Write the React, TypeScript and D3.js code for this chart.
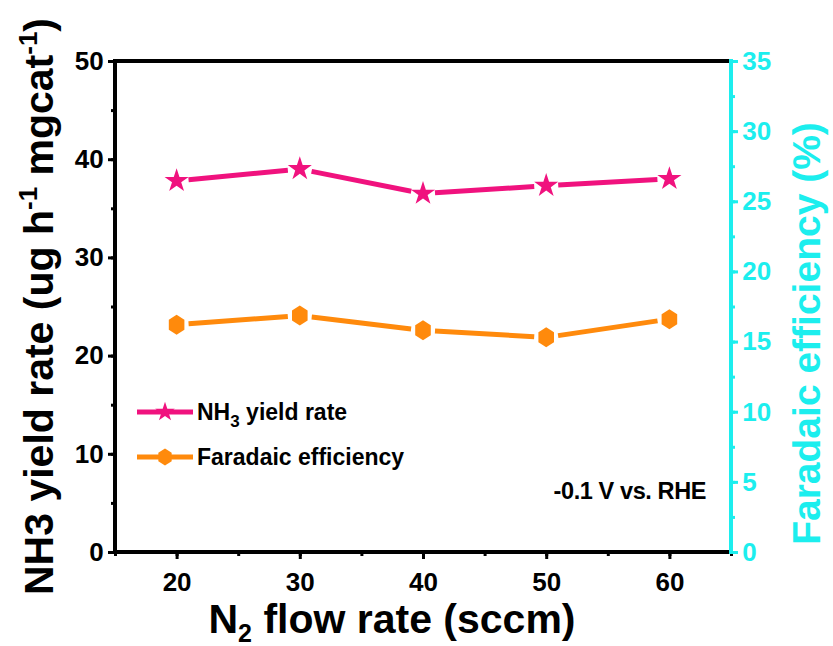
import React, { useEffect, useRef } from 'react';
import * as d3 from 'd3';

const flowRates = [20, 30, 40, 50, 60];
const nh3Yield = [37.8, 39.0, 36.5, 37.3, 38.0];
const faradaic = [16.2, 16.85, 15.8, 15.3, 16.6];
const xTicks = [20, 30, 40, 50, 60];
const leftTicks = [0, 10, 20, 30, 40, 50];
const rightTicks = [0, 5, 10, 15, 20, 25, 30, 35];

const PINK = '#f0127e';
const ORANGE = '#ff8a0c';
const CYAN = '#1ceeee';

// vertical hexagon marker
const hexagon = {
  draw(ctx: any, size: number) {
    const r = Math.sqrt(size / 2.6);
    for (let i = 0; i < 6; i++) {
      const a = Math.PI / 2 + (i * Math.PI) / 3;
      const px = r * Math.cos(a) * 0.9;
      const py = r * Math.sin(a);
      if (i === 0) ctx.moveTo(px, py);
      else ctx.lineTo(px, py);
    }
    ctx.closePath();
  },
};

const App = () => {
  const svgRef = useRef<SVGSVGElement>(null);

  useEffect(() => {
    const svg = d3.select(svgRef.current);
    svg.selectAll('*').remove();

    const width = 833;
    const height = 646;
    const marginLeft = 115;
    const marginRight = 102;
    const marginTop = 61;
    const marginBottom = 94;
    const font = "'Liberation Sans', Arial, sans-serif";

    const x = d3.scaleLinear([15, 65], [marginLeft, width - marginRight]);
    const y = d3.scaleLinear([0, 50], [height - marginBottom, marginTop]);
    const y2 = d3.scaleLinear([0, 35], [height - marginBottom, marginTop]);

    // axes
    const bottom = svg.append('g')
      .attr('transform', `translate(0,${height - marginBottom})`);
    bottom.call(d3.axisBottom(x).tickValues(d3.range(15, 66, 5)).tickSize(4).tickFormat(() => ''))
      .call(g => g.select('.domain').remove());
    bottom.append('g')
      .call(d3.axisBottom(x).tickValues(xTicks).tickSize(7).tickFormat(d3.format('d')))
      .call(g => g.select('.domain').remove());

    const left = svg.append('g').attr('transform', `translate(${marginLeft},0)`);
    left.call(d3.axisLeft(y).tickValues(d3.range(0, 51, 5)).tickSize(4).tickFormat(() => ''))
      .call(g => g.select('.domain').remove());
    left.append('g')
      .call(d3.axisLeft(y).tickValues(leftTicks).tickSize(7).tickFormat(d3.format('d')))
      .call(g => g.select('.domain').remove());

    const right = svg.append('g').attr('transform', `translate(${width - marginRight},0)`);
    right.call(d3.axisRight(y2).tickValues(d3.range(0, 35.1, 2.5)).tickSize(4).tickFormat(() => ''))
      .call(g => g.select('.domain').remove());
    right.append('g')
      .call(d3.axisRight(y2).tickValues(rightTicks).tickSize(7).tickFormat(d3.format('d')))
      .call(g => g.select('.domain').remove());

    svg.selectAll('.tick line').attr('stroke-width', 3);
    bottom.selectAll('.tick line').attr('stroke', '#000');
    left.selectAll('.tick line').attr('stroke', '#000');
    right.selectAll('.tick line').attr('stroke', CYAN);
    svg.selectAll('.tick text')
      .attr('font-family', font).attr('font-weight', 'bold').attr('font-size', 26);
    bottom.selectAll('.tick text').attr('fill', '#000').attr('dy', '1.1em');
    left.selectAll('.tick text').attr('fill', '#000').attr('dx', '-0.05em');
    right.selectAll('.tick text').attr('fill', CYAN).attr('dx', '0.05em');

    // frame
    const x0 = marginLeft, x1 = width - marginRight;
    const yt = marginTop, yb = height - marginBottom;
    svg.append('line').attr('x1', x0).attr('x2', x1).attr('y1', yt).attr('y2', yt)
      .attr('stroke', '#000').attr('stroke-width', 4);
    svg.append('line').attr('x1', x0).attr('x2', x1).attr('y1', yb).attr('y2', yb)
      .attr('stroke', '#000').attr('stroke-width', 4);
    svg.append('line').attr('x1', x0).attr('x2', x0).attr('y1', yt - 2).attr('y2', yb + 2)
      .attr('stroke', '#000').attr('stroke-width', 4);
    svg.append('line').attr('x1', x1).attr('x2', x1).attr('y1', yt - 2).attr('y2', yb + 2)
      .attr('stroke', CYAN).attr('stroke-width', 4);

    // series with gaps around markers
    const drawSeries = (vals: number[], ys: any, color: string, symbol: any, size: number, gap: number) => {
      const pts = flowRates.map((f, i) => [x(f), ys(vals[i])]);
      for (let i = 0; i < pts.length - 1; i++) {
        const [ax, ay] = pts[i];
        const [bx, by] = pts[i + 1];
        const len = Math.hypot(bx - ax, by - ay);
        const ux = (bx - ax) / len, uy = (by - ay) / len;
        svg.append('line')
          .attr('x1', ax + ux * gap).attr('y1', ay + uy * gap)
          .attr('x2', bx - ux * gap).attr('y2', by - uy * gap)
          .attr('stroke', color).attr('stroke-width', 5);
      }
      svg.append('g').selectAll('path').data(pts).join('path')
        .attr('transform', d => `translate(${d[0]},${d[1]})`)
        .attr('d', d3.symbol(symbol, size)())
        .attr('fill', color);
    };
    drawSeries(nh3Yield, y, PINK, d3.symbolStar, 180, 12);
    drawSeries(faradaic, y2, ORANGE, hexagon, 260, 12);

    // legend
    const legend = [
      { label: 'NH', sub: '3', rest: ' yield rate', color: PINK, symbol: d3.symbolStar, size: 120, ly: 412 },
      { label: 'Faradaic efficiency', sub: '', rest: '', color: ORANGE, symbol: hexagon, size: 190, ly: 457 },
    ];
    legend.forEach(l => {
      svg.append('line').attr('x1', 137).attr('x2', 193).attr('y1', l.ly).attr('y2', l.ly)
        .attr('stroke', l.color).attr('stroke-width', 5);
      svg.append('path').attr('transform', `translate(165,${l.ly})`)
        .attr('d', d3.symbol(l.symbol, l.size)()).attr('fill', l.color);
      const t = svg.append('text').attr('x', 197).attr('y', l.ly + 8)
        .attr('font-family', font).attr('font-weight', 'bold').attr('font-size', 23);
      t.append('tspan').text(l.label);
      if (l.sub) {
        t.append('tspan').attr('font-size', 17).attr('dy', 7).text(l.sub);
        t.append('tspan').attr('dy', -7).text(l.rest);
      }
    });

    svg.append('text').attr('x', 706).attr('y', 499).attr('text-anchor', 'end')
      .attr('font-family', font).attr('font-weight', 'bold').attr('font-size', 23.5)
      .attr('letter-spacing', -0.4).text('-0.1 V vs. RHE');

    // x label
    const xl = svg.append('text').attr('x', 392).attr('y', 633).attr('text-anchor', 'middle')
      .attr('font-family', font).attr('font-weight', 'bold').attr('font-size', 41);
    xl.append('tspan').text('N');
    xl.append('tspan').attr('font-size', 25).attr('dy', 9).text('2');
    xl.append('tspan').attr('dy', -9).text(' flow rate (sccm)');

    // left y label
    const yl = svg.append('text')
      .attr('transform', `translate(53,${(yt + yb) / 2}) rotate(-90)`)
      .attr('text-anchor', 'middle')
      .attr('font-family', font).attr('font-weight', 'bold').attr('font-size', 41);
    yl.append('tspan').text('NH3 yield rate (ug h');
    yl.append('tspan').attr('font-size', 26).attr('dy', -16).text('-1');
    yl.append('tspan').attr('dy', 16).text(' mgcat');
    yl.append('tspan').attr('font-size', 26).attr('dy', -16).text('-1');
    yl.append('tspan').attr('dy', 16).text(')');

    // right y label
    svg.append('text')
      .attr('transform', `translate(820,${(yt + yb) / 2 + 27}) rotate(-90)`)
      .attr('text-anchor', 'middle')
      .attr('font-family', font).attr('font-weight', 'bold').attr('font-size', 39)
      .attr('fill', CYAN).text('Faradaic efficiency (%)');
  }, []);

  return (
    <svg ref={svgRef} width={833} height={646} viewBox="0 0 833 646"
      style={{ display: 'block', position: 'absolute', left: 0, top: 0, background: '#fff' }} />
  );
};

export default App;
